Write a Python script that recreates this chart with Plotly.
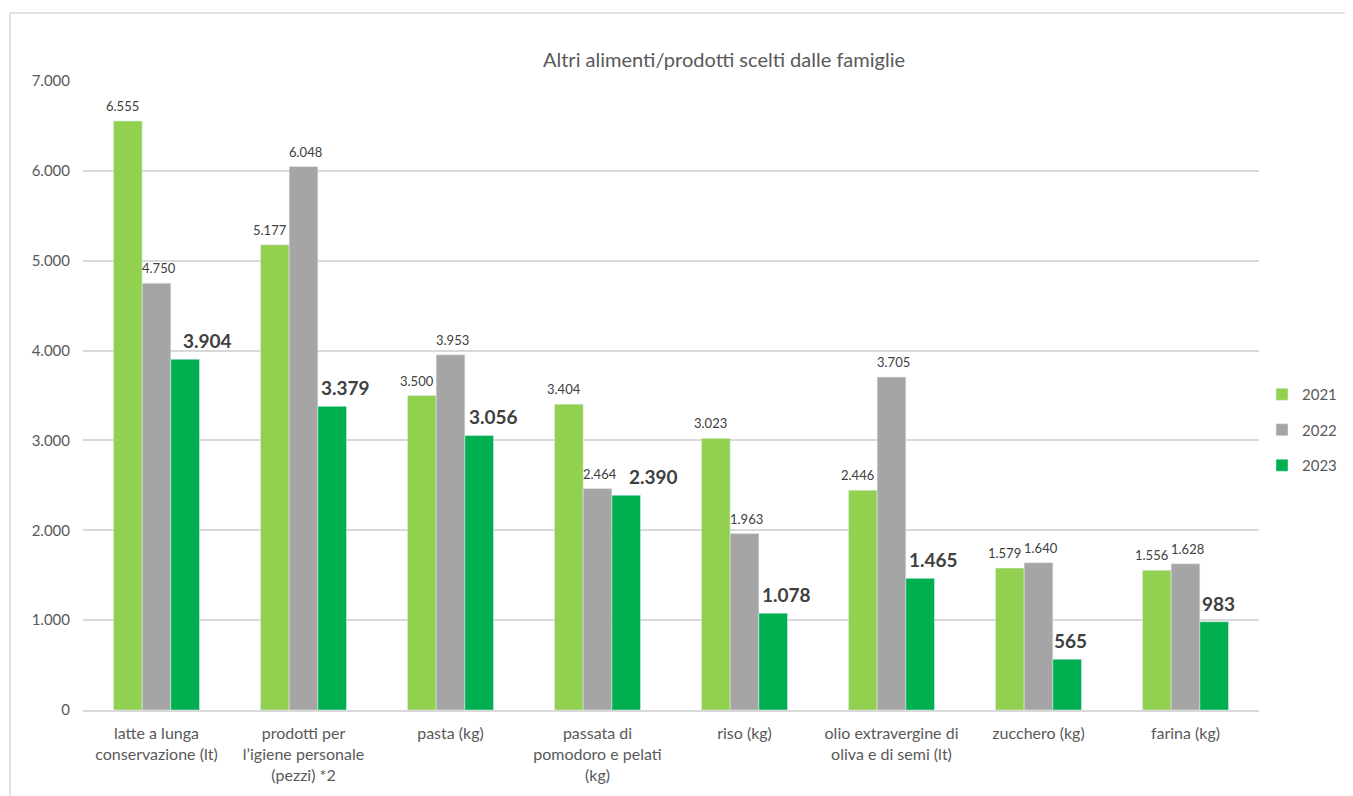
import plotly.graph_objects as go

categories = [
    "latte a lunga<br>conservazione (lt)",
    "prodotti per<br>l’igiene personale<br>(pezzi) *2",
    "pasta (kg)",
    "passata di<br>pomodoro e pelati<br>(kg)",
    "riso (kg)",
    "olio extravergine di<br>oliva e di semi (lt)",
    "zucchero (kg)",
    "farina (kg)",
]
years = ["2021", "2022", "2023"]
v2021 = [6555, 5177, 3500, 3404, 3023, 2446, 1579, 1556]
v2022 = [4750, 6048, 3953, 2464, 1963, 3705, 1640, 1628]
v2023 = [3904, 3379, 3056, 2390, 1078, 1465, 565, 983]
colors = ["#92D050", "#A5A5A5", "#00B050"]

# label nudges (px) for the bold 2023 labels, as placed in the original
nudge_2023 = [9, 0, 1, 14, 0, 0, -2, -1]

OFF = 8  # page body offset
W, H = 1353 - OFF, 796 - OFF
L, R, T, B = 83 - OFF, 94, 81 - OFF, 86
pw, ph = W - L - R, H - T - B
BARGAP = 0.415
bw = pw / len(categories) * (1 - BARGAP) / 3  # bar width in px

def px(x):
    return (x - OFF - L) / pw

def py(y):
    return (H - B - (y - OFF)) / ph

def fmt(v):
    return f"{v:,}".replace(",", ".")

FONT = "Lato"
fig = go.Figure()
series = [v2021, v2022, v2023]
for name, vals, col in zip(years, series, colors):
    fig.add_trace(go.Bar(name=name, x=categories, y=vals, marker_color=col,
                         legendgroup=name))

label_style = [
    dict(xanchor="center", xshift=-bw - 5, size=13, bold=False, nudge=[0] * 8),
    dict(xanchor="center", xshift=2, size=13, bold=False, nudge=[0] * 8),
    dict(xanchor="left", xshift=bw / 2 + 1, size=19, bold=True, nudge=nudge_2023),
]
for vals, st in zip(series, label_style):
    for c, v, n in zip(categories, vals, st["nudge"]):
        t = fmt(v)
        fig.add_annotation(
            x=c, y=v, xref="x", yref="y", showarrow=False,
            text=f"<b>{t}</b>" if st["bold"] else t,
            xanchor=st["xanchor"], yanchor="bottom",
            xshift=st["xshift"] + n, yshift=5,
            font=dict(family=FONT, size=st["size"], color="#404040"),
        )

fig.update_layout(
    width=W, height=H, barmode="group", bargap=BARGAP, bargroupgap=0,
    separators=",.",
    paper_bgcolor="white", plot_bgcolor="white",
    margin=dict(l=L, r=R, t=T, b=B, autoexpand=False),
    font=dict(family=FONT, color="#595959"),
    title=dict(text="Altri alimenti/prodotti scelti dalle famiglie",
               xref="paper", x=px(724), xanchor="center",
               y=1 - (60 - OFF) / H, yanchor="middle",
               font=dict(size=20, color="#595959", family=FONT)),
    legend=dict(x=px(1262), xanchor="left", y=py(430), yanchor="middle",
                font=dict(size=15, color="#595959", family=FONT),
                tracegroupgap=13, itemwidth=30),
    showlegend=True,
)
fig.update_xaxes(showline=True, linecolor="#D9D9D9", linewidth=1.5,
                 tickfont=dict(size=16, color="#595959", family=FONT), ticks="",
                 ticklabelstandoff=8)
fig.update_yaxes(range=[0, 7000], dtick=1000, tickformat=",", showgrid=True,
                 gridcolor="#D9D9D9", gridwidth=1.5, zeroline=False,
                 tickfont=dict(size=15, color="#595959", family=FONT),
                 ticks="", ticklabelstandoff=12)
# chart-area border (top and left edges visible in the original)
border = dict(color="#D9D9D9", width=1.5)
fig.add_shape(type="line", xref="paper", yref="paper",
              x0=px(10), x1=px(1360), y0=py(13), y1=py(13), line=border, layer="below")
fig.add_shape(type="line", xref="paper", yref="paper",
              x0=px(10), x1=px(10), y0=py(13), y1=py(800), line=border, layer="below")

fig.write_html("out.html")
